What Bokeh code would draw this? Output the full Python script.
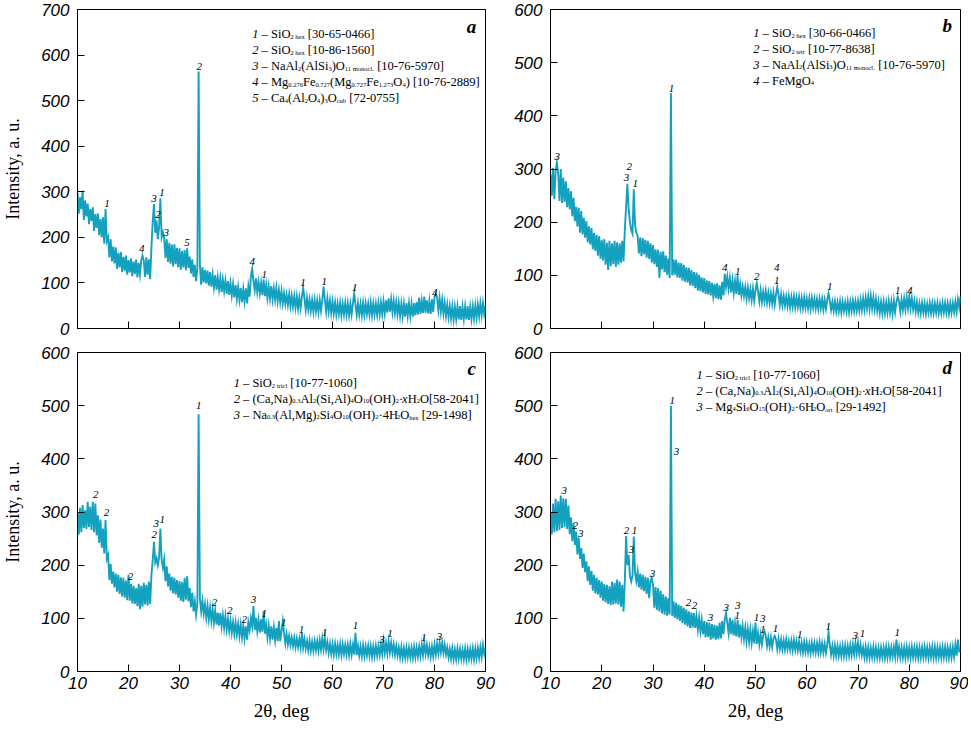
import re
import numpy as np
from bokeh.plotting import figure
from bokeh.models import Range1d, FixedTicker, Label, ColumnDataSource
from bokeh.layouts import column, row
from bokeh.core.properties import value
from bokeh.embed import file_html
from bokeh.resources import INLINE

# ---------------- data (2theta from 10 to 90 deg, step 0.25 deg) ----------------
theta_start = 10.0
theta_step = 0.25

intensity_a = [
    298,252,288,262, 302,238,281,246, 274,229,262,236, 266,214,251,221, 252,205,240,200,
    244,186,262,192, 200,156,196,147, 180,143,178,131, 166,134,168,124, 157,127,160,118,
    150,123,154,115, 147,120,151,112, 144,119,150,160, 148,113,156,118, 152,108,178,235,
    273,210,237,196, 222,286,200,211, 198,155,196,146, 188,142,184,136, 185,141,177,134,
    176,129,170,134, 172,128,176,133, 158,121,152,113, 140,104,132,564, 140,96,134,101,
    128,99,127,94, 124,92,118,90, 117,85,112,86, 110,80,107,82, 105,76,104,74,
    100,73,97,68, 95,65,90,63, 89,58,86,60, 88,55,92,70, 115,131,104,84,
    110,80,102,77, 100,73,108,71, 95,67,92,66, 93,64,88,63, 89,60,84,58,
    82,55,77,54, 74,52,75,49, 72,48,71,46, 70,44,68,45, 70,89,66,41,
    67,42,63,39, 62,37,63,38, 61,36,62,39, 63,92,64,37, 65,38,61,34,
    59,33,57,31, 55,32,56,29, 54,31,56,30, 55,29,54,31, 55,77,53,30,
    55,31,54,29, 56,30,55,32, 54,30,57,29, 55,31,54,30, 56,31,57,32,
    59,33,62,35, 66,37,64,36, 61,34,58,31, 56,28,55,27, 54,26,56,28,
    55,27,54,26, 56,29,58,31, 68,32,60,34, 70,35,62,33, 60,32,64,36,
    70,77,68,40, 66,37,62,33, 56,28,52,25, 49,22,48,20, 47,21,48,20,
    49,19,47,21, 48,20,49,19, 47,21,48,22, 50,24,52,27, 55,30,56,32,
    50,
]

intensity_b = [
    290,250,302,243, 296,312,291,240, 300,236,284,238, 277,228,264,224, 258,211,246,202,
    229,192,227,180, 221,177,208,171, 202,162,192,158, 189,149,180,146, 176,137,174,131,
    167,128,168,120, 161,110,165,117, 160,121,165,116, 162,120,160,124, 165,126,185,230,
    272,225,200,185, 178,262,195,180, 174,141,171,136, 170,140,167,133, 165,131,160,124,
    157,121,149,116, 148,95,144,111, 145,106,137,101, 132,95,443,100, 130,101,129,96,
    124,95,123,90, 120,88,115,86, 114,81,110,80, 106,76,105,71, 101,70,96,68,
    95,65,90,64, 89,62,86,61, 84,57,85,55, 81,54,88,62, 103,78,97,75,
    95,68,91,67, 89,65,100,63, 83,62,79,61, 78,56,77,57, 74,54,75,52,
    72,85,70,51, 72,50,69,51, 70,49,67,48, 66,47,67,45, 64,78,63,44,
    64,44,61,43, 60,42,61,40, 59,41,60,40, 58,41,59,39, 57,38,58,39,
    56,38,57,37, 57,39,56,38, 55,37,56,38, 55,36,54,37, 54,66,52,35,
    50,33,51,32, 49,32,51,31, 50,33,49,32, 51,31,50,33, 52,33,51,34,
    52,34,54,35, 56,36,58,38, 60,37,61,38, 58,36,55,33, 51,30,50,29,
    50,29,49,30, 51,30,50,28, 52,31,50,60, 52,32,54,35, 56,36,58,38,
    60,38,57,36, 52,32,50,30, 47,29,48,30, 47,28,46,30, 48,29,47,29,
    47,30,48,29, 46,29,48,30, 48,30,47,28, 47,30,48,31, 50,32,55,40,
    60,
]

intensity_c = [
    300,258,308,262, 313,270,303,268, 319,272,310,266, 319,262,316,256, 294,242,286,233,
    269,222,285,212, 219,172,202,165, 188,158,184,150, 182,146,177,141, 176,139,171,134,
    182,133,165,128, 161,127,157,123, 165,117,161,122, 167,126,163,124, 169,127,182,210,
    244,205,213,200, 215,269,210,195, 211,170,198,160, 184,152,178,147, 176,145,172,139,
    170,133,168,131, 176,135,179,132, 157,121,148,113, 132,107,128,484, 138,113,133,109,
    127,101,123,98, 120,95,117,92, 114,88,111,86, 110,85,106,82, 104,79,99,76,
    96,73,93,71, 92,70,89,67, 88,64,86,62, 85,60,92,78, 100,85,123,78,
    101,76,97,73, 98,75,113,71, 88,64,86,62, 85,60,83,59, 82,57,95,57,
    76,95,73,53, 70,51,67,50, 64,48,63,46, 62,46,61,45, 73,45,61,43,
    57,40,58,39, 56,39,57,40, 57,39,59,41, 62,42,64,41, 55,35,52,33,
    51,32,52,33, 50,32,51,31, 51,33,50,32, 50,31,52,32, 50,32,73,31,
    48,30,47,29, 49,29,47,30, 48,30,48,28, 47,29,48,30, 48,31,51,33,
    57,35,53,34, 57,36,54,35, 51,32,48,30, 45,27,46,26, 44,26,45,27,
    45,27,44,26, 46,27,45,28, 47,29,50,31, 54,33,50,31, 46,28,47,29,
    50,32,52,34, 54,36,54,35, 50,32,45,27, 42,24,43,23, 41,23,43,24,
    42,24,41,23, 43,23,42,24, 42,24,43,23, 43,25,44,26, 46,28,50,33,
    45,
]

intensity_d = [
    300,258,316,262, 325,264,320,266, 331,270,326,272, 325,268,312,258, 290,245,279,238,
    263,220,252,212, 232,195,222,187, 207,170,198,163, 189,152,182,147, 176,145,172,139,
    169,133,165,130, 163,127,160,125, 169,126,167,128, 173,126,169,122, 163,113,170,255,
    200,219,180,169, 180,254,185,170, 188,158,184,154, 182,151,178,146, 176,138,170,176,
    163,120,159,116, 157,113,152,109, 145,107,141,105, 138,107,500,104, 132,101,129,98,
    126,95,123,91, 120,88,117,85, 113,82,111,83, 110,82,104,79, 101,76,97,70,
    95,64,93,65, 92,60,89,62, 88,60,86,61, 92,62,95,70, 98,110,90,72,
    101,70,97,68, 90,66,97,64, 88,64,85,61, 82,57,80,56, 79,54,76,53,
    92,52,72,51, 70,51,68,76, 67,48,64,47, 64,46,62,67, 60,42,61,43,
    60,42,58,41, 60,42,57,41, 58,40,59,41, 57,40,56,38, 54,36,55,37,
    54,36,52,35, 54,37,53,36, 53,36,55,36, 53,36,52,35, 50,73,50,32,
    48,29,49,30, 48,30,47,29, 48,29,49,30, 48,30,49,31, 50,32,54,34,
    54,33,50,31, 45,27,46,26, 45,26,44,27, 46,27,45,26, 44,26,45,27,
    45,26,46,27, 46,27,45,28, 46,28,60,29, 46,27,45,26, 45,26,46,27,
    45,26,46,27, 45,27,46,26, 45,26,45,27, 46,27,45,26, 45,27,46,26,
    46,26,45,27, 45,26,46,27, 46,27,45,26, 45,27,46,28, 50,30,60,38,
    40,
]

# peak annotations (position, height, phase number)
peaks_a_x = [33.88, 15.78, 24.99, 26.55, 25.77, 27.39, 22.59, 31.47, 44.26, 46.6, 54.24, 58.4, 64.37, 80.07]
peaks_a_y = [576, 274, 286, 299, 251, 210, 175, 189, 148, 118, 102, 103, 90, 80]
peaks_a_t = ["2", "1", "3", "1", "2", "3", "4", "5", "4", "1", "1", "1", "1", "4"]

peaks_b_x = [11.3, 25.35, 24.83, 26.52, 33.6, 44.02, 46.55, 50.26, 54.16, 54.16, 64.5, 77.77, 80.1]
peaks_b_y = [323, 305, 284, 273, 452, 115, 108, 98, 115, 90, 78.5, 71, 71]
peaks_b_t = ["3", "2", "3", "1", "1", "4", "1", "2", "4", "1", "1", "1", "4"]

peaks_c_x = [13.57, 15.7, 25.44, 26.6, 25.05, 33.75, 20.38, 36.86, 39.84, 42.7, 44.52, 46.6,
             50.43, 53.93, 58.47, 64.5, 69.7, 71.25, 77.87, 80.99]
peaks_c_y = [333, 300, 278, 285, 257, 501, 179, 129, 115, 98, 135, 109, 92, 79, 73, 86.5, 60, 71, 63.5, 65]
peaks_c_t = ["2", "2", "3", "1", "2", "1", "2", "2", "2", "2", "3", "1", "1", "1", "1", "1", "3", "1", "1", "3"]

peaks_d_x = [33.74, 34.59, 12.67, 14.82, 15.92, 24.83, 26.39, 25.8, 29.9, 36.93, 38.1, 41.22, 44.28,
             46.55, 46.42, 50.2, 51.43, 51.43, 53.9, 58.65, 64.18, 69.45, 70.88, 77.65]
peaks_d_y = [510, 414, 340, 275, 260, 265, 265, 229, 184, 130, 124, 101, 121, 125, 106, 101, 99,
             78.5, 80, 70, 85, 68.6, 71, 74]
peaks_d_t = ["1", "3", "3", "2", "3", "2", "1", "3", "3", "2", "2", "3", "3", "3", "1", "1", "3",
             "1", "1", "1", "1", "3", "1", "1"]

# legends: {i:..} italic, {s:..} subscript
legend_a = [
    "{i:1} – SiO{s:2 hex} [30-65-0466]",
    "{i:2} – SiO{s:2 hex} [10-86-1560]",
    "{i:3} – NaAl{s:2}(AlSi{s:3})O{s:11 monocl.} [10-76-5970]",
    "{i:4} – Mg{s:0.276}Fe{s:0.727}(Mg{s:0.727}Fe{s:1.273}O{s:4}) [10-76-2889]",
    "{i:5} – Ca{s:4}(Al{s:2}O{s:4}){s:3}O{s:cub} [72-0755]",
]
legend_b = [
    "{i:1} – SiO{s:2 hex} [30-66-0466]",
    "{i:2} – SiO{s:2 tetr} [10-77-8638]",
    "{i:3} – NaAl{s:2}(AlSi{s:3})O{s:11 monocl.} [10-76-5970]",
    "{i:4} – FeMgO{s:4}",
]
legend_c = [
    "{i:1} – SiO{s:2 tricl} [10-77-1060]",
    "{i:2} – (Ca,Na){s:0.3}Al{s:2}(Si,Al){s:4}O{s:10}(OH){s:2}·{i:x}H{s:2}O[58-2041]",
    "{i:3} – Na{s:0.3}(Al,Mg){s:2}Si{s:4}O{s:10}(OH){s:2}·4H{s:2}O{s:hex} [29-1498]",
]
legend_d = [
    "{i:1} – SiO{s:2 tricl} [10-77-1060]",
    "{i:2} – (Ca,Na){s:0.3}Al{s:2}(Si,Al){s:4}O{s:10}(OH){s:2}·{i:x}H{s:2}O[58-2041]",
    "{i:3} – Mg{s:4}Si{s:6}O{s:15}(OH){s:2}·6H{s:2}O{s:ort} [29-1492]",
]

x_ticks = [10, 20, 30, 40, 50, 60, 70, 80, 90]

# ---------------- styling ----------------
TEAL = "#14a0bf"
SERIF = "Liberation Serif"
SANS = "Liberation Sans"
LEG_SIZE = 12.5
SUB_SIZE = 6.5
LINE_GAP = 16

# Times / Liberation Serif advance widths (per 1000 em)
TW = {" ": 250, "(": 333, ")": 333, ",": 250, "-": 333, ".": 250, "[": 333, "]": 333, "·": 250,
      "–": 500, "A": 722, "C": 667, "F": 556, "H": 722, "M": 889, "N": 722, "O": 722, "S": 556,
      "a": 444, "b": 500, "c": 444, "d": 500, "e": 444, "g": 500, "h": 500, "i": 278, "l": 278,
      "m": 778, "n": 500, "o": 500, "r": 333, "s": 389, "t": 278, "u": 500, "x": 500, "y": 500}


def text_width(s, size, italic=False):
    total = 0
    for ch in s:
        w = TW.get(ch, 500)
        if italic and ch == "x":
            w = 444
        total += w
    return total * size / 1000.0


def parse(line):
    segs = []
    pos = 0
    for m in re.finditer(r"\{([is]):([^}]*)\}", line):
        if m.start() > pos:
            segs.append(("n", line[pos:m.start()]))
        segs.append((m.group(1), m.group(2)))
        pos = m.end()
    if pos < len(line):
        segs.append(("n", line[pos:]))
    return segs


def make_panel(vals, ymax, px, py, pt, legend, letter, width, height, bl, br, bt, bb,
               xlabels, ylabel, leg_off, letter_off):
    W = width - bl - br
    H = height - bt - bb
    p = figure(width=width, height=height, output_backend="svg", toolbar_location=None,
               x_range=Range1d(10, 90), y_range=Range1d(0, ymax),
               min_border_left=bl, min_border_right=br, min_border_top=bt, min_border_bottom=bb)
    p.background_fill_color = "white"
    p.border_fill_color = "white"
    p.outline_line_color = "black"
    p.outline_line_width = 1
    p.xgrid.visible = False
    p.ygrid.visible = False

    xa = p.xaxis[0]
    xa.ticker = FixedTicker(ticks=x_ticks)
    xa.major_tick_in = 7
    xa.major_tick_out = 0
    xa.minor_tick_in = 0
    xa.minor_tick_out = 0
    xa.axis_line_color = "black"
    xa.major_label_text_font = SANS
    xa.major_label_text_font_style = "italic"
    xa.major_label_text_font_size = "17px"
    xa.major_label_text_color = "black"
    xa.major_label_standoff = 5
    if xlabels:
        xa.axis_label = "2θ, deg"
        xa.axis_label_text_font = SERIF
        xa.axis_label_text_font_style = "normal"
        xa.axis_label_text_font_size = "19px"
        xa.axis_label_text_color = "black"
        xa.axis_label_standoff = 8
    else:
        xa.major_label_overrides = {t: "" for t in x_ticks}

    ya = p.yaxis[0]
    ya.ticker = FixedTicker(ticks=list(range(0, ymax + 1, 100)))
    ya.major_tick_in = 7
    ya.major_tick_out = 0
    ya.minor_tick_in = 0
    ya.minor_tick_out = 0
    ya.axis_line_color = "black"
    ya.major_label_text_font = SANS
    ya.major_label_text_font_style = "italic"
    ya.major_label_text_font_size = "17px"
    ya.major_label_text_color = "black"
    ya.major_label_standoff = 8
    if ylabel:
        ya.axis_label = "Intensity, a. u."
        ya.axis_label_text_font = SERIF
        ya.axis_label_text_font_style = "normal"
        ya.axis_label_text_font_size = "18px"
        ya.axis_label_text_color = "black"
        ya.axis_label_standoff = 15

    x = theta_start + theta_step * np.arange(len(vals))
    p.line(x, vals, line_color=TEAL, line_width=1.9, line_join="miter")

    src = ColumnDataSource(dict(x=px, y=py, t=pt))
    p.text(x="x", y="y", text="t", source=src, text_font=value(SERIF), text_font_style="italic",
           text_font_size="11px", text_align="center", text_baseline="middle", text_color="black")

    # legend
    lx = 10 + leg_off[0] * 80.0 / W
    ly = ymax * (1 - leg_off[1] / H)
    for i, line in enumerate(legend):
        cur = 0.0
        for kind, seg in parse(line):
            size = SUB_SIZE if kind == "s" else LEG_SIZE
            italic = kind == "i"
            lead = len(seg) - len(seg.lstrip(" "))
            cur += text_width(" " * lead, size)
            core = seg.strip(" ")
            if core:
                p.add_layout(Label(x=lx, y=ly, x_offset=cur,
                                   y_offset=-LINE_GAP * i - (2.5 if kind == "s" else 0),
                                   text=core, text_font=SERIF, text_font_size=f"{size}px",
                                   text_font_style="italic" if italic else "normal",
                                   text_align="left", text_baseline="alphabetic", text_color="black"))
                cur += text_width(core, size, italic)
            trail = len(seg) - len(seg.rstrip(" ")) if core else 0
            cur += text_width(" " * trail, size)

    # panel letter
    p.add_layout(Label(x=10 + letter_off[0] * 80.0 / W, y=ymax * (1 - letter_off[1] / H),
                       text=letter, text_font=SERIF, text_font_size="19px",
                       text_font_style="bold italic", text_align="center",
                       text_baseline="middle", text_color="black"))
    return p


# layout: top row 339 px tall (frame 319), bottom row 392 px tall (frame 319)
pa = make_panel(intensity_a, 700, peaks_a_x, peaks_a_y, peaks_a_t, legend_a, "a",
                500, 339, 74, 15, 9, 11, False, True, (176, 24.7), (397, 16.7))
pb = make_panel(intensity_b, 600, peaks_b_x, peaks_b_y, peaks_b_t, legend_b, "b",
                468, 339, 50, 8, 9, 11, False, False, (202.7, 23), (396.7, 15.7))
pc = make_panel(intensity_c, 600, peaks_c_x, peaks_c_y, peaks_c_t, legend_c, "c",
                500, 392, 74, 15, 13, 60, True, True, (157.3, 30), (397, 16.3))
pd = make_panel(intensity_d, 600, peaks_d_x, peaks_d_y, peaks_d_t, legend_d, "d",
                468, 392, 50, 8, 13, 60, True, False, (146, 22), (396.7, 15.3))

layout = column(row(pa, pb), row(pc, pd))
open("out.html", "w").write(file_html(layout, INLINE))
